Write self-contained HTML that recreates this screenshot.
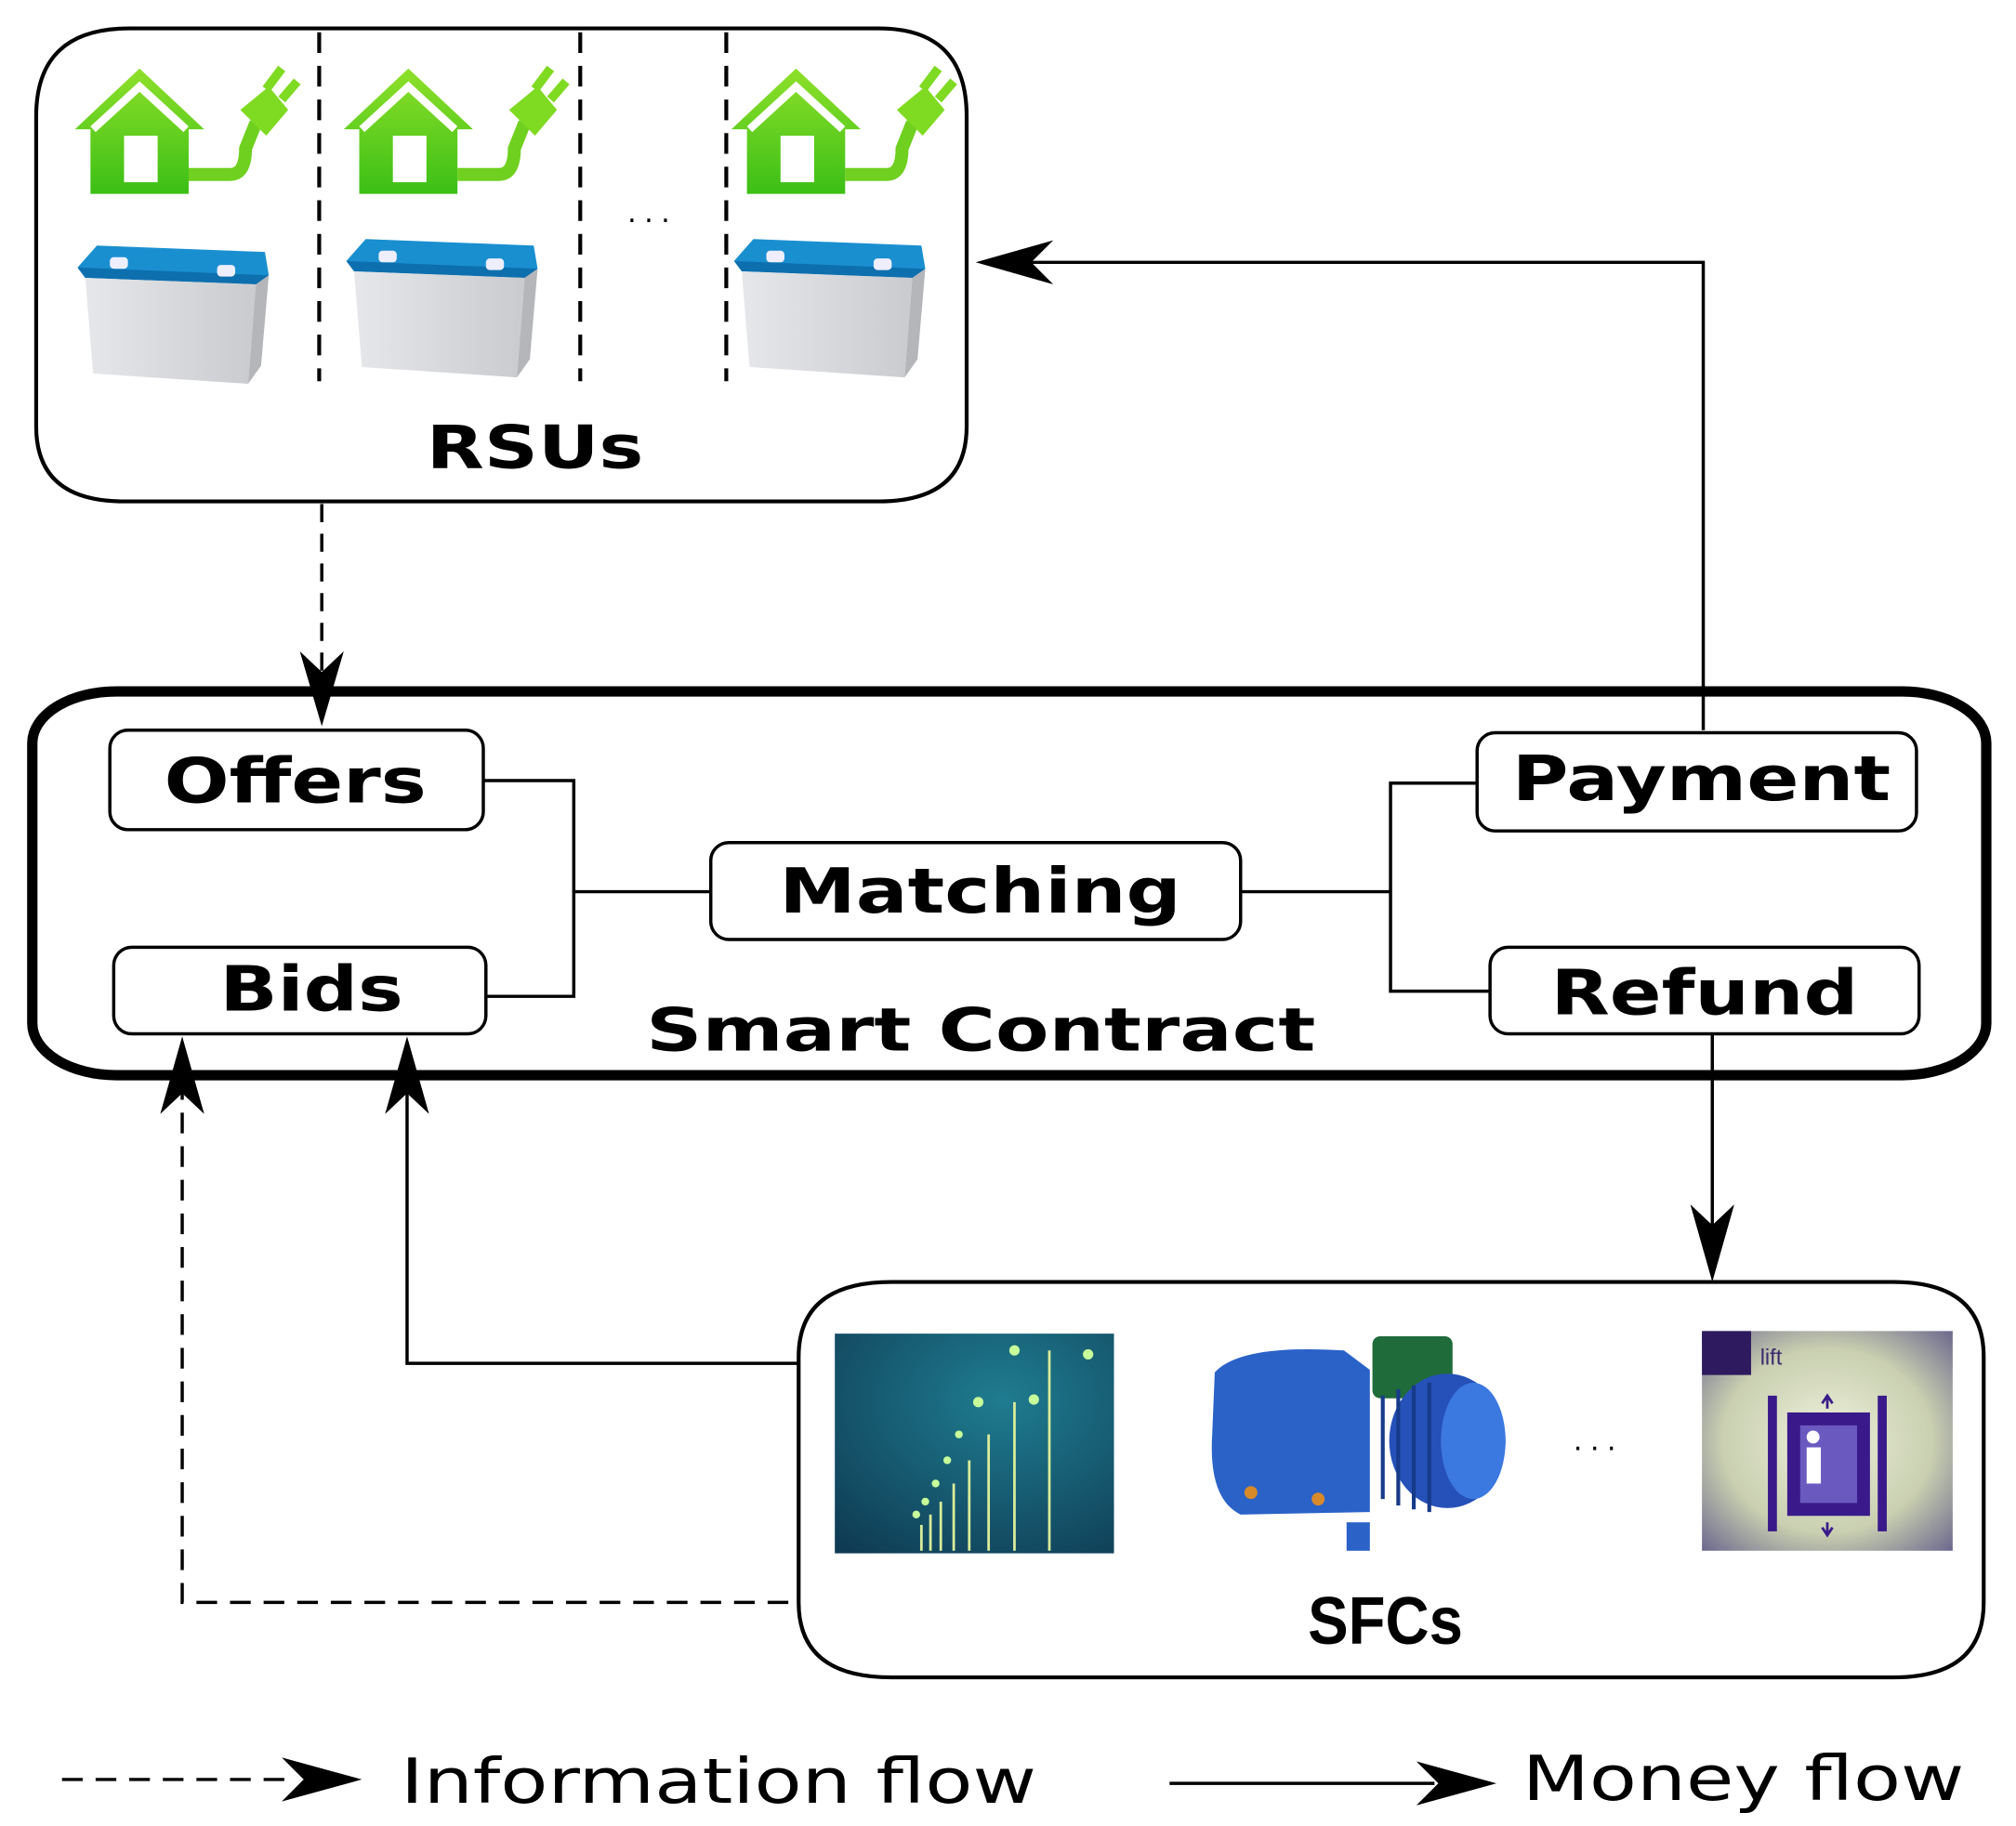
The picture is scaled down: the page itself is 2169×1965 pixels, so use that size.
<!DOCTYPE html>
<html><head><meta charset="utf-8"><style>
html,body{margin:0;padding:0;background:#fff;}
svg{display:block;}
text{font-family:"DejaVu Sans","Liberation Sans",sans-serif;}
</style></head><body>
<svg width="2169" height="1965" viewBox="0 0 1560 1413" preserveAspectRatio="none" xmlns="http://www.w3.org/2000/svg">
<defs>
<linearGradient id="grn" x1="0" y1="0" x2="0" y2="1"><stop offset="0" stop-color="#8ee02a"/><stop offset="1" stop-color="#3cbf16"/></linearGradient>
<linearGradient id="bat" x1="0" y1="0" x2="1" y2="0"><stop offset="0" stop-color="#e6e7ea"/><stop offset="1" stop-color="#c9cbcf"/></linearGradient>
<radialGradient id="street" cx="0.6" cy="0.3" r="0.9"><stop offset="0" stop-color="#1f7c90"/><stop offset="1" stop-color="#0e3a52"/></radialGradient>
<radialGradient id="lift" cx="0.5" cy="0.5" r="0.7"><stop offset="0" stop-color="#eef2dc"/><stop offset="0.6" stop-color="#c9cfb0"/><stop offset="1" stop-color="#6e6a8e"/></radialGradient>
<g id="house">
<path d="M0 55 L50 8 L100 55 L88 55 L88 105 L12 105 L12 55 Z" fill="url(#grn)"/>
<rect x="38" y="60" width="26" height="36" fill="#fff"/>
<path d="M14 55 L50 22 L86 55" fill="none" stroke="#fff" stroke-width="6"/>
<path d="M88 90 L120 90 Q132 90 132 70 L140 50" fill="none" stroke="#6fd01f" stroke-width="10"/>
<path d="M128 40 L150 22 L165 40 L148 60 Z" fill="#7fda22"/>
<path d="M148 24 L160 8 M160 32 L172 18" stroke="#7fda22" stroke-width="7"/>
</g>
<g id="battery">
<path d="M0 22 L15 5 L145 10 L148 28 L138 35 L6 30 Z" fill="#1a8fd0"/>
<path d="M0 22 L6 30 L138 35 L148 28" fill="#0d6fae"/>
<path d="M6 30 L138 35 L132 112 L12 104 Z" fill="url(#bat)"/>
<path d="M138 35 L148 28 L142 98 L132 112 Z" fill="#b4b6ba"/>
<rect x="25" y="14" width="14" height="9" rx="3" fill="#eef"/>
<rect x="108" y="20" width="14" height="9" rx="3" fill="#eef"/>
</g>
</defs>

<path d="M100 22 H680 Q748 22 748 90 V330 Q748 388 680 388 H96 Q28 388 28 330 V90 Q28 22 100 22 Z" fill="none" stroke="#000" stroke-width="3"/>
<g stroke="#000" stroke-width="3" stroke-dasharray="16 10">
<line x1="247" y1="25" x2="247" y2="295"/>
<line x1="449" y1="25" x2="449" y2="295"/>
<line x1="562" y1="25" x2="562" y2="295"/>
</g>
<text x="505" y="172" font-size="22" text-anchor="middle" letter-spacing="6">...</text>
<use href="#house" x="58" y="45"/>
<use href="#house" x="266" y="45"/>
<use href="#house" x="566" y="45"/>
<use href="#battery" x="60" y="185"/>
<use href="#battery" x="268" y="180"/>
<use href="#battery" x="568" y="180"/>
<text x="330" y="362" font-size="46" font-weight="bold" textLength="168" lengthAdjust="spacingAndGlyphs">RSUs</text>

<rect x="25" y="535" width="1512" height="297" rx="65" ry="40" fill="none" stroke="#000" stroke-width="8"/>
<g fill="#fff" stroke="#000" stroke-width="2.5">
<rect x="85" y="565" width="289" height="77" rx="14"/>
<rect x="88" y="733" width="288" height="67" rx="14"/>
<rect x="550" y="652" width="410" height="75" rx="14"/>
<rect x="1143" y="567" width="340" height="76" rx="14"/>
<rect x="1153" y="733" width="332" height="67" rx="14"/>
</g>
<g font-size="48" font-weight="bold" lengthAdjust="spacingAndGlyphs">
<text x="127" y="621" textLength="203" lengthAdjust="spacingAndGlyphs">Offers</text>
<text x="170" y="782" textLength="142" lengthAdjust="spacingAndGlyphs">Bids</text>
<text x="603" y="706" textLength="311" lengthAdjust="spacingAndGlyphs">Matching</text>
<text x="1170" y="619" textLength="293" lengthAdjust="spacingAndGlyphs">Payment</text>
<text x="1200" y="785" textLength="238" lengthAdjust="spacingAndGlyphs">Refund</text>
</g>
<text x="500" y="813" font-size="46" font-weight="bold" textLength="518" lengthAdjust="spacingAndGlyphs">Smart Contract</text>
<g stroke="#000" stroke-width="2.5" fill="none">
<path d="M374 604 H444 V771 H376"/>
<path d="M444 690 H550"/>
<path d="M960 690 H1076"/>
<path d="M1143 606 H1076 V767 H1153"/>
</g>

<path d="M1318 565 V203 H770" fill="none" stroke="#000" stroke-width="2.5"/>
<path d="M755 203 L815 186 L798 203 L815 220 Z" fill="#000"/>
<line x1="249" y1="390" x2="249" y2="540" stroke="#000" stroke-width="2.5" stroke-dasharray="14 9"/>
<path d="M249 562 L232 504 L249 520 L266 504 Z" fill="#000"/>
<line x1="1325" y1="800" x2="1325" y2="975" stroke="#000" stroke-width="2.5"/>
<path d="M1325 992 L1308 932 L1325 948 L1342 932 Z" fill="#000"/>
<path d="M618 1055 H315 V820" fill="none" stroke="#000" stroke-width="2.5"/>
<path d="M315 802 L298 862 L315 846 L332 862 Z" fill="#000"/>
<path d="M610 1240 H141 V820" fill="none" stroke="#000" stroke-width="2.5" stroke-dasharray="16 10"/>
<path d="M141 802 L124 862 L141 846 L158 862 Z" fill="#000"/>

<path d="M690 992 H1465 Q1535 992 1535 1050 V1240 Q1535 1298 1465 1298 H690 Q618 1298 618 1240 V1050 Q618 992 690 992 Z" fill="none" stroke="#000" stroke-width="3"/>
<rect x="646" y="1032" width="216" height="170" fill="url(#street)"/>
<g stroke="#d8ec9a" stroke-width="2">
<line x1="812" y1="1045" x2="812" y2="1200"/><line x1="785" y1="1085" x2="785" y2="1200"/>
<line x1="765" y1="1110" x2="765" y2="1200"/><line x1="750" y1="1130" x2="750" y2="1200"/>
<line x1="738" y1="1148" x2="738" y2="1200"/><line x1="728" y1="1162" x2="728" y2="1200"/>
<line x1="720" y1="1172" x2="720" y2="1200"/><line x1="713" y1="1180" x2="713" y2="1200"/>
</g>
<g fill="#c8ff9a">
<circle cx="785" cy="1045" r="4"/><circle cx="842" cy="1048" r="4"/><circle cx="757" cy="1085" r="4"/><circle cx="800" cy="1083" r="4"/>
<circle cx="742" cy="1110" r="3"/><circle cx="733" cy="1130" r="3"/><circle cx="724" cy="1148" r="3"/><circle cx="716" cy="1162" r="3"/><circle cx="709" cy="1172" r="3"/>
</g>
<g>
<path d="M940 1062 Q960 1040 1040 1045 L1060 1060 L1060 1170 L960 1172 Q935 1160 938 1110 Z" fill="#2a62c8"/>
<rect x="1062" y="1034" width="62" height="48" rx="6" fill="#1f6b3a"/>
<ellipse cx="1120" cy="1115" rx="45" ry="52" fill="#2651b8"/>
<ellipse cx="1140" cy="1115" rx="25" ry="45" fill="#3b78e0"/>
<g stroke="#173a8a" stroke-width="3"><line x1="1070" y1="1080" x2="1070" y2="1160"/><line x1="1082" y1="1075" x2="1082" y2="1165"/><line x1="1094" y1="1072" x2="1094" y2="1168"/><line x1="1106" y1="1070" x2="1106" y2="1170"/></g>
<circle cx="968" cy="1155" r="5" fill="#d88a2a"/><circle cx="1020" cy="1160" r="5" fill="#d88a2a"/>
<rect x="1042" y="1178" width="18" height="22" fill="#2a62c8"/>
</g>
<text x="1237" y="1122" font-size="22" text-anchor="middle" letter-spacing="6">...</text>
<rect x="1317" y="1030" width="194" height="170" fill="url(#lift)"/>
<rect x="1317" y="1030" width="38" height="34" fill="#2e1a5e"/>
<text x="1362" y="1056" font-size="17" fill="#3a2a6e" style="font-family:'Liberation Sans',sans-serif">lift</text>
<rect x="1368" y="1080" width="7" height="105" fill="#3a1a8a"/>
<rect x="1453" y="1080" width="7" height="105" fill="#3a1a8a"/>
<rect x="1383" y="1093" width="64" height="80" fill="#3a1a8a"/>
<rect x="1393" y="1103" width="44" height="60" fill="#6a5ac0"/>
<circle cx="1403" cy="1112" r="5" fill="#fff"/>
<rect x="1398" y="1120" width="11" height="28" fill="#fff"/>
<path d="M1414 1082 V1090 M1410 1086 L1414 1080 L1418 1086 M1414 1178 V1186 M1410 1182 L1414 1188 L1418 1182" stroke="#3a1a8a" stroke-width="2" fill="none"/>
<text x="1012" y="1272" font-size="52" font-weight="bold" textLength="120" lengthAdjust="spacingAndGlyphs" style="font-family:'Liberation Sans',sans-serif">SFCs</text>

<line x1="48" y1="1377" x2="225" y2="1377" stroke="#000" stroke-width="2.5" stroke-dasharray="16 10"/>
<path d="M280 1377 L218 1360 L235 1377 L218 1394 Z" fill="#000"/>
<text x="310" y="1395" font-size="48" textLength="492" lengthAdjust="spacingAndGlyphs">Information flow</text>
<line x1="905" y1="1380" x2="1110" y2="1380" stroke="#000" stroke-width="2.5"/>
<path d="M1158 1380 L1096 1363 L1113 1380 L1096 1397 Z" fill="#000"/>
<text x="1178" y="1393" font-size="48" textLength="342" lengthAdjust="spacingAndGlyphs">Money flow</text>
</svg>
</body></html>
